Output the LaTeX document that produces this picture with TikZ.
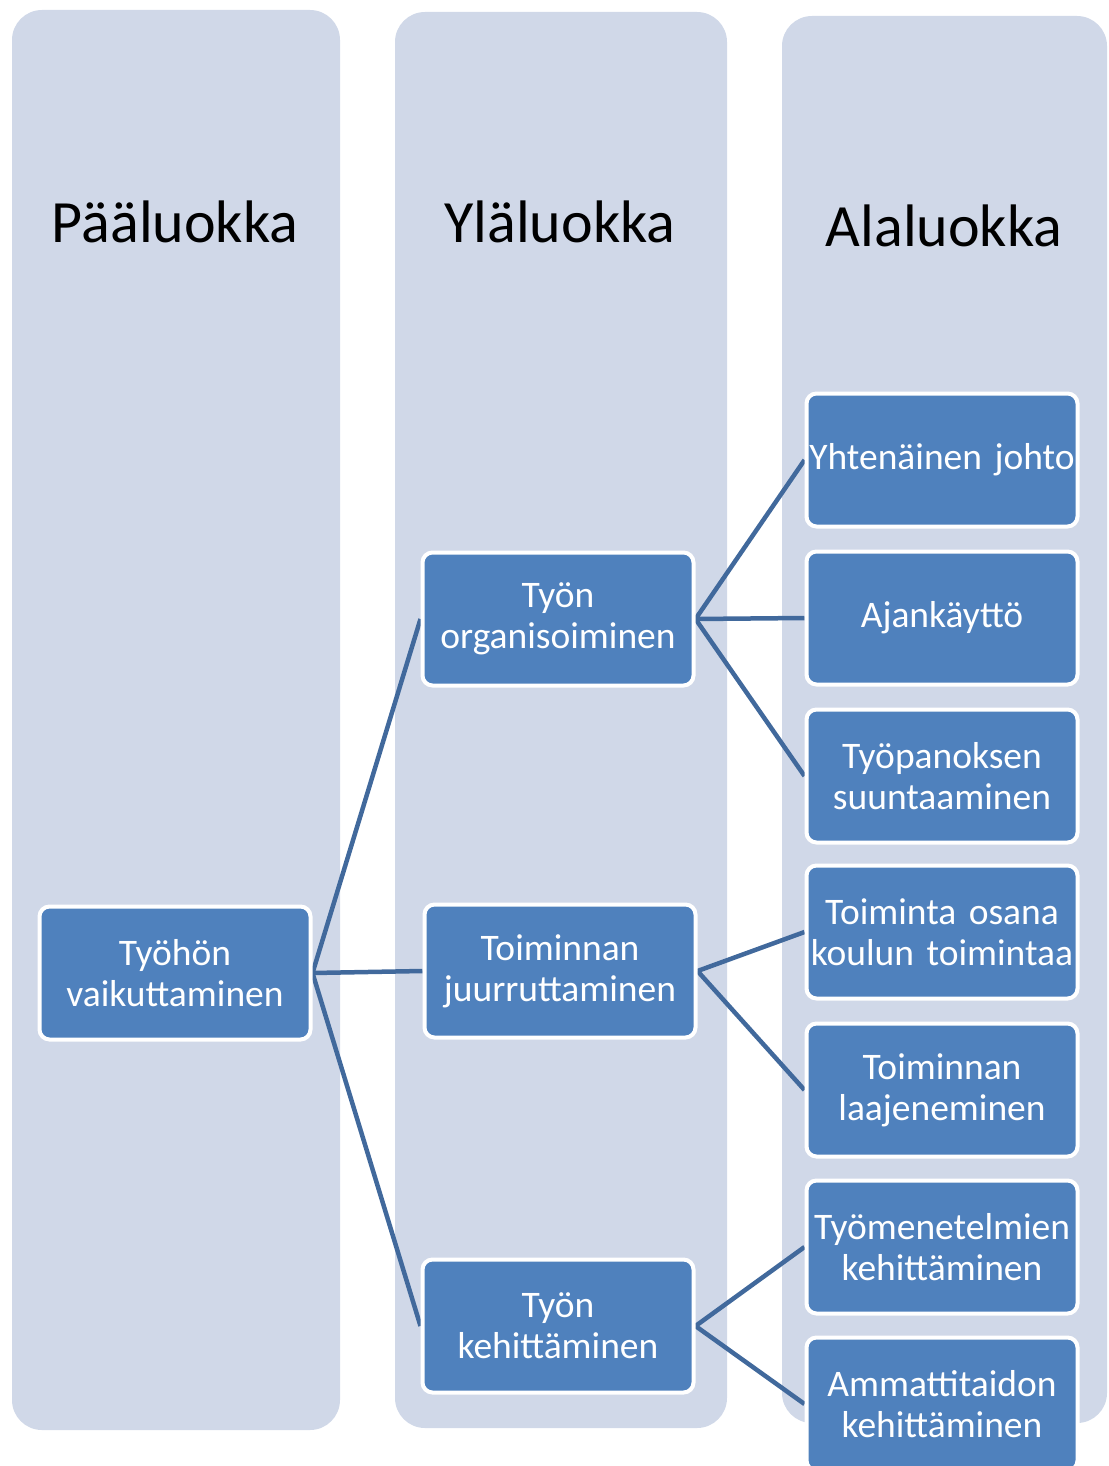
\documentclass[tikz,border=0pt]{standalone}
\usepackage{fontspec}
\setmainfont[WordSpace=0.7]{Carlito}
\definecolor{colbg}{HTML}{D0D8E8}
\definecolor{boxblue}{HTML}{4F81BD}
\definecolor{linkblue}{HTML}{41699C}
\pgfdeclarelayer{back}
\pgfsetlayers{back,main}
\tikzset{
  catbox/.style={draw=white, line width=4pt, fill=boxblue, rounded corners=10pt,
    minimum width=271pt, minimum height=133pt, text width=271pt, align=center,
    text=white, inner sep=0pt, font=\fontsize{37.5}{41}\selectfont},
  header/.style={font=\fontsize{60}{70}\selectfont, inner sep=0pt},
  link/.style={draw=linkblue, line width=4.5pt}
}
\begin{document}
\begin{tikzpicture}[x=1pt, y=-1pt]
    \useasboundingbox (0,0) rectangle (1108,1466);

    % Headers
    \node[header] (hmain) at (175, 222) {Pääluokka};
    \node[header] (hupper) at (560, 222) {Yläluokka};
    \node[header] (hlower) at (944, 226) {Alaluokka};

    % Main and upper classes
    \node[catbox] (main) at (175, 973) {Työhön\\vaikuttaminen};
    \node[catbox] (org) at (558, 619) {Työn\\organisoiminen};
    \node[catbox] (root) at (560, 971) {Toiminnan\\juurruttaminen};
    \node[catbox] (dev) at (558, 1326) {Työn\\kehittäminen};

    % Lower classes
    \foreach \name/\y/\label in {lead/460/Yhtenäinen johto, time/618/Ajankäyttö,
        effort/776/Työpanoksen\\suuntaaminen, part/932/Toiminta osana\\koulun toimintaa,
        spread/1090/Toiminnan\\laajeneminen, method/1247/Työmenetelmien\\kehittäminen,
        skill/1404/Ammattitaidon\\kehittäminen} {
        \node[catbox] (\name) at (942, \y) {\label};
    }

    \begin{pgfonlayer}{back}
        % Columns
        \fill[colbg, rounded corners=30pt] (12, 10) rectangle (340, 1430);
        \fill[colbg, rounded corners=30pt] (395, 12) rectangle (727, 1428);
        \fill[colbg, rounded corners=30pt] (782, 16) rectangle (1107, 1423);

        % Links
        \foreach \a/\b in {main/org, main/root, main/dev, org/lead, org/time, org/effort,
            root/part, root/spread, dev/method, dev/skill} {
            \path[link] (\a.east) -- (\b.west);
        }
    \end{pgfonlayer}
\end{tikzpicture}
\end{document}
